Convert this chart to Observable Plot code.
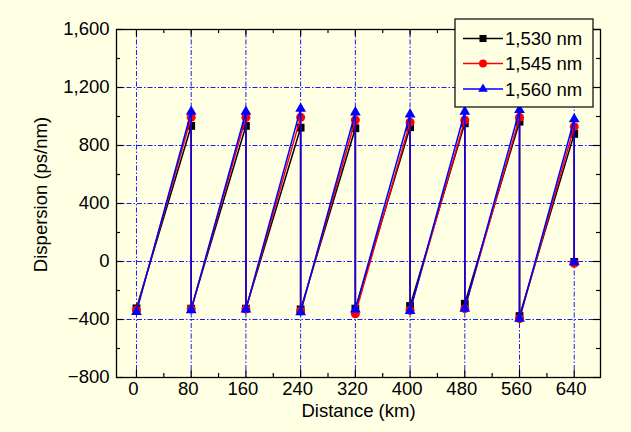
<!DOCTYPE html>
<html><head><meta charset="utf-8">
<script src="https://cdn.jsdelivr.net/npm/d3@7"></script>
<script src="https://cdn.jsdelivr.net/npm/@observablehq/plot@0.6"></script>
<style>
html,body{margin:0;padding:0;background:#ffffe4;}
#chart{width:631px;height:432px;}
</style></head><body><div id="chart"></div>
<script>
// ---- data ----
const distanceKm = [0, 80, 80, 160, 160, 240, 240, 320, 320, 400, 400, 480, 480, 560, 560, 640, 640];
const dispersion1530 = [-323, 935, -325, 935, -325, 923, -330, 919, -325, 926, -307, 953, -291, 964, -376, 880, -3];
const dispersion1545 = [-335, 994, -328, 994, -328, 994, -341, 976, -360, 960, -337, 976, -325, 994, -394, 930, -12];
const dispersion1560 = [-348, 1033, -335, 1033, -330, 1054, -350, 1029, -330, 1015, -341, 1033, -325, 1045, -394, 981, -5];
const seriesNames = ["1,530 nm", "1,545 nm", "1,560 nm"];
const seriesValues = [dispersion1530, dispersion1545, dispersion1560];
const seriesColors = ["#000000", "#ff0000", "#0000ff"];
const seriesSymbols = ["square", "circle", "triangle"];
const xTicks = [0, 80, 160, 240, 320, 400, 480, 560, 640];
const xMinorTicks = [40, 120, 200, 280, 360, 440, 520, 600];
const yTicks = [-800, -400, 0, 400, 800, 1200, 1600];
const yMinorTicks = [-600, -200, 200, 600, 1000, 1400];
const yGridTicks = [-400, 0, 400, 800, 1200];
const xTitle = "Distance (km)";
const yTitle = "Dispersion (ps/nm)";

// ---- build table ----
const rows = seriesNames.flatMap((name, s) =>
  distanceKm.map((d, i) => ({series: name, distance: d, dispersion: seriesValues[s][i]})));

const bg = "#ffffe4";
const font = "'Liberation Sans', Arial, sans-serif";
const fs = 18.5;
const W = 631, H = 432, mL = 116, mR = 31, mT = 29, mB = 55;
const plotW = W - mL - mR, plotH = H - mT - mB;
const grid = {stroke: "#1a1aff", strokeWidth: 1, strokeDasharray: "5,2,1.5,2"};
const fmt = d3.format(",");
const symR = {square: 4.4, circle: 4.5, triangle: 4.0};
const legR = {square: 4.0, circle: 4.0, triangle: 3.6};

const seriesMarks = seriesNames.flatMap((name, s) => {
  const data = rows.filter(r => r.series === name);
  return [
    Plot.line(data, {x: "distance", y: "dispersion", stroke: seriesColors[s], strokeWidth: 1.5}),
    Plot.dot(data, {x: "distance", y: "dispersion", fill: seriesColors[s], stroke: "none",
      symbol: () => seriesSymbols[s], r: symR[seriesSymbols[s]]})
  ];
});

function legendMark() {
  const g = d3.create("svg:g");
  const x0 = 455, y0 = 19, x1 = 593, y1 = 107;
  g.append("rect").attr("x", x0).attr("y", y0).attr("width", x1 - x0).attr("height", y1 - y0)
    .attr("fill", bg).attr("stroke", "black").attr("stroke-width", 1.2);
  const ys = [38.5, 63.5, 89];
  seriesNames.forEach((name, s) => {
    const y = ys[s];
    g.append("line").attr("x1", 463).attr("x2", 503).attr("y1", y).attr("y2", y)
      .attr("stroke", seriesColors[s]).attr("stroke-width", 1.5);
    const sym = {square: d3.symbolSquare, circle: d3.symbolCircle, triangle: d3.symbolTriangle}[seriesSymbols[s]];
    const r = legR[seriesSymbols[s]];
    g.append("path").attr("transform", `translate(483,${y})`)
      .attr("d", d3.symbol(sym, Math.PI * r * r)()).attr("fill", seriesColors[s]);
    g.append("text").attr("x", 505).attr("y", y).attr("dy", "0.36em")
      .attr("text-anchor", "start")
      .style("font-family", font).style("font-size", fs + "px").attr("fill", "black").text(name);
  });
  return g.node();
}

const chart = Plot.plot({
  width: W, height: H,
  marginLeft: mL, marginRight: mR, marginTop: mT, marginBottom: mB,
  style: {background: bg, fontFamily: font, fontSize: fs + "px", color: "black", overflow: "visible"},
  x: {domain: [-29.2, 678.4], axis: null},
  y: {domain: [-800, 1600], axis: null},
  marks: [
    Plot.ruleX(xTicks, {x: d => d, ...grid}),
    Plot.ruleY(yGridTicks, {y: d => d, ...grid}),
    ...seriesMarks,
    Plot.frame({stroke: "black", strokeWidth: 1.3}),
    // major / minor ticks pointing inward
    Plot.tickX(xTicks, {x: d => d, insetTop: plotH - 7, stroke: "black", strokeWidth: 1.2}),
    Plot.tickX(xTicks, {x: d => d, insetBottom: plotH - 7, stroke: "black", strokeWidth: 1.2}),
    Plot.tickX(xMinorTicks, {x: d => d, insetTop: plotH - 4, stroke: "black", strokeWidth: 1.2}),
    Plot.tickX(xMinorTicks, {x: d => d, insetBottom: plotH - 4, stroke: "black", strokeWidth: 1.2}),
    Plot.tickY(yTicks, {y: d => d, insetRight: plotW - 7, stroke: "black", strokeWidth: 1.2}),
    Plot.tickY(yTicks, {y: d => d, insetLeft: plotW - 7, stroke: "black", strokeWidth: 1.2}),
    Plot.tickY(yMinorTicks, {y: d => d, insetRight: plotW - 4, stroke: "black", strokeWidth: 1.2}),
    Plot.tickY(yMinorTicks, {y: d => d, insetLeft: plotW - 4, stroke: "black", strokeWidth: 1.2}),
    // tick labels
    Plot.text(xTicks, {x: d => d, frameAnchor: "bottom", dy: 12, dx: -3, text: d => fmt(d),
      textAnchor: "middle", lineAnchor: "middle", fontSize: fs, fill: "black"}),
    Plot.text(yTicks, {y: d => d, frameAnchor: "left", dx: -7, textAnchor: "end", text: d => fmt(d),
      lineAnchor: "middle", fontSize: fs, fill: "black"}),
    // titles
    Plot.text([xTitle], {frameAnchor: "bottom", dy: 34, text: d => d, textAnchor: "middle",
      lineAnchor: "middle", fontSize: fs, fill: "black"}),
    Plot.text([yTitle], {frameAnchor: "left", dx: -75, dy: -9, rotate: -90, text: d => d,
      textAnchor: "middle", lineAnchor: "middle", fontSize: fs, fill: "black"}),
    legendMark
  ]
});
document.getElementById("chart").append(chart);
</script>
</body></html>
